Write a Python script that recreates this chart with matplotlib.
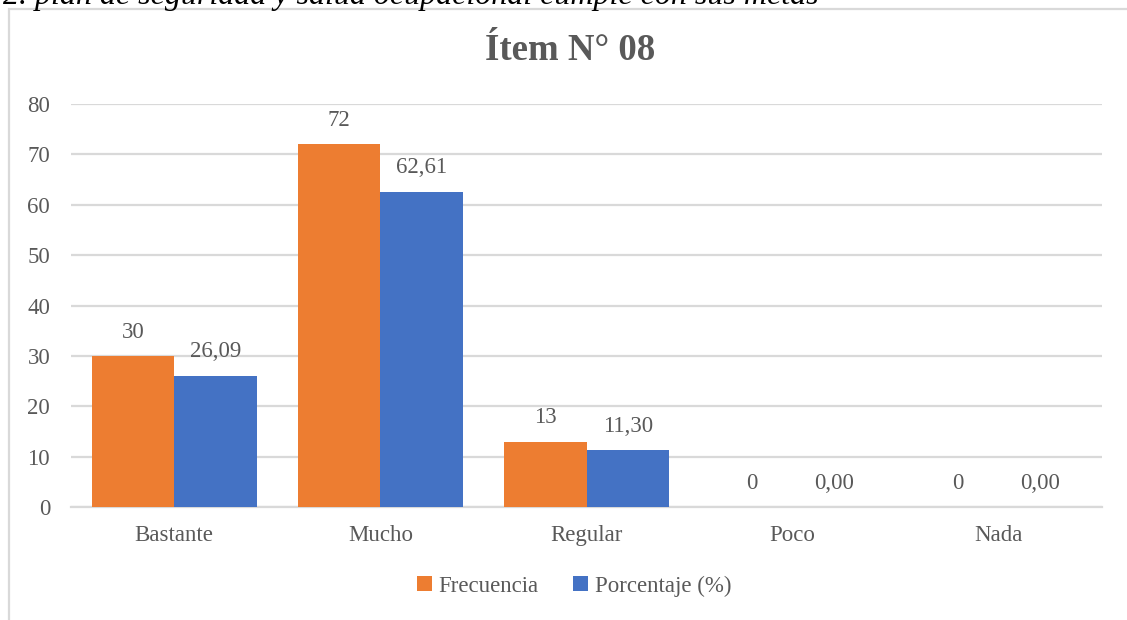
import matplotlib
matplotlib.use("Agg")
import matplotlib.pyplot as plt
import numpy as np
from matplotlib.patches import Patch, Rectangle

categories = ["Bastante", "Mucho", "Regular", "Poco", "Nada"]
frecuencia = [30, 72, 13, 0, 0]
porcentaje = [26.09, 62.61, 11.30, 0.00, 0.00]
y_ticks = [0, 10, 20, 30, 40, 50, 60, 70, 80]
series_names = ["Frecuencia", "Porcentaje (%)"]

ORANGE = "#ED7D31"
BLUE = "#4472C4"
TEXT = "#595959"
GRID = "#D9D9D9"
SERIF = ["Liberation Serif", "DejaVu Serif"]
FS = 16.5

plt.rcParams["font.family"] = SERIF

W, H = 1127, 620
fig = plt.figure(figsize=(W / 100, H / 100), dpi=100)

# chart frame running off the right and bottom edges
fig.patches.append(Rectangle((9 / W, -0.05), 1.2, 1 - 9 / H + 0.05,
                             transform=fig.transFigure, fill=False,
                             edgecolor=GRID, linewidth=1.6, zorder=0))

# caption line partially above the chart area
fig.text(3 / W, 1 - 4 / H,
         "2. plan de seguridad y salud ocupacional cumple con sus metas",
         fontsize=23, style="italic", color="black", va="baseline", ha="left")

fig.text(570 / W, 1 - 50 / H, "Ítem N° 08", fontsize=26.5, fontweight="bold",
         color=TEXT, ha="center", va="center")

ax = fig.add_axes([71 / W, 1 - 507 / H, (1102 - 71) / W, (507 - 104) / H])

x = np.arange(len(categories))
w = 0.4
b1 = ax.bar(x - w / 2, frecuencia, width=w, color=ORANGE, zorder=3)
b2 = ax.bar(x + w / 2, porcentaje, width=w, color=BLUE, zorder=3)

for rect, v in zip(b1, frecuencia):
    ax.annotate(f"{v}", (rect.get_x() + rect.get_width() / 2, v),
                xytext=(0, 17), textcoords="offset points",
                ha="center", va="center", fontsize=FS, color=TEXT)
for rect, v in zip(b2, porcentaje):
    ax.annotate(f"{v:.2f}".replace(".", ","),
                (rect.get_x() + rect.get_width() / 2, v),
                xytext=(0, 17), textcoords="offset points",
                ha="center", va="center", fontsize=FS, color=TEXT)

ax.set_xlim(-0.5, len(categories) - 0.5)
ax.set_ylim(0, 80)
ax.set_yticks(y_ticks)
ax.set_xticks(x)
ax.set_xticklabels(categories)
ax.tick_params(axis="both", length=0, labelsize=FS, labelcolor=TEXT)
ax.tick_params(axis="y", pad=15)
ax.tick_params(axis="x", pad=13)
ax.grid(axis="y", color=GRID, linewidth=1.6, zorder=0)
for s in ["left", "right", "top"]:
    ax.spines[s].set_visible(False)
ax.spines["bottom"].set_color(GRID)
ax.spines["bottom"].set_linewidth(1.6)

handles = [Patch(facecolor=ORANGE), Patch(facecolor=BLUE)]
leg = fig.legend(handles, series_names, loc="center",
                 bbox_to_anchor=(574 / W, 1 - 586 / H), ncol=2, frameon=False,
                 handlelength=0.65, handleheight=0.65, handletextpad=0.3,
                 columnspacing=1.5, fontsize=FS)
for t in leg.get_texts():
    t.set_color(TEXT)

fig.savefig("out.png", dpi=100)
